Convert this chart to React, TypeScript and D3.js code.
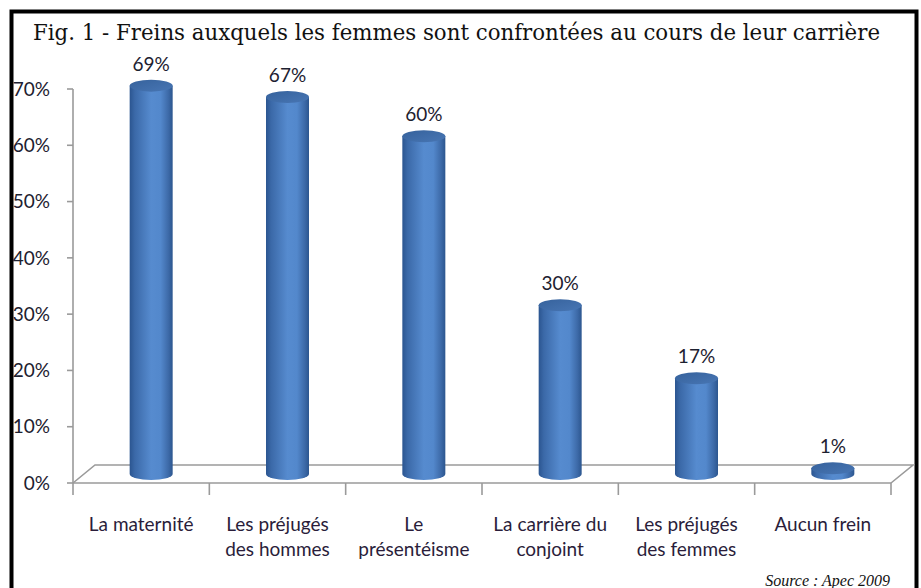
import React from "react";
import * as d3 from "d3";

const categories: string[][] = [
  ["La maternité"],
  ["Les préjugés", "des hommes"],
  ["Le", "présentéisme"],
  ["La carrière du", "conjoint"],
  ["Les préjugés", "des femmes"],
  ["Aucun frein"],
];
const values: number[] = [69, 67, 60, 30, 17, 1];
const yTicks: number[] = [0, 10, 20, 30, 40, 50, 60, 70];
const title = "Fig. 1 - Freins auxquels les femmes sont confrontées au cours de leur carrière";
const source = "Source : Apec 2009";

const W = 921;
const H = 588;

export default function App() {
  const y = d3.scaleLinear().domain([0, 70]).range([483, 89]);
  const x = d3
    .scaleBand<number>()
    .domain(values.map((_, i) => i))
    .range([73, 891])
    .padding(0);
  const depthX = 22;
  const depthY = 18;
  const rx = 21.5;
  const ry = 6;
  const bw = x.bandwidth();
  const floorFront = y(0);
  const gridColor = "#9a9a9a";
  const labelFont = "Lato, 'Open Sans', sans-serif";

  return (
    <svg
      width={W}
      height={H}
      style={{ position: "absolute", left: 0, top: 0, background: "#fff" }}
    >
      <defs>
        <linearGradient id="cylBody" x1="0" x2="1" y1="0" y2="0">
          <stop offset="0%" stopColor="#2b5590" />
          <stop offset="12%" stopColor="#3b69a8" />
          <stop offset="50%" stopColor="#568bcf" />
          <stop offset="72%" stopColor="#5388cc" />
          <stop offset="90%" stopColor="#3d6aa8" />
          <stop offset="100%" stopColor="#2c568f" />
        </linearGradient>
        <linearGradient id="cylTop" x1="0" x2="1" y1="0" y2="1">
          <stop offset="0%" stopColor="#36629c" />
          <stop offset="100%" stopColor="#4876b4" />
        </linearGradient>
      </defs>
      <rect x={0} y={0} width={W} height={H} fill="#fff" />
      <rect x={11.5} y={11.5} width={905} height={620} fill="none" stroke="#000" strokeWidth={4} />

      <text
        x={33}
        y={40}
        fontFamily="'DejaVu Serif', serif"
        fontSize={21.5}
        fill="#111"
        textLength={847}
        lengthAdjust="spacingAndGlyphs"
      >
        {title}
      </text>

      {/* floor */}
      <g stroke={gridColor} strokeWidth={1.6} fill="none">
        <path
          d={`M${x.range()[0]},${floorFront} L${x.range()[0] + depthX},${floorFront - depthY} L${x.range()[1] + depthX},${floorFront - depthY} L${x.range()[1]},${floorFront}`}
        />
        <line x1={x.range()[0]} x2={x.range()[1]} y1={floorFront} y2={floorFront} />
      </g>

      {/* y axis */}
      <g stroke={gridColor} strokeWidth={1.6}>
        <line x1={73} x2={73} y1={y(70)} y2={floorFront + 12} />
        {yTicks.map((t) => (
          <line key={t} x1={67} x2={73} y1={y(t)} y2={y(t)} />
        ))}
        {values.map((_, i) => (
          <line key={i} x1={x(i)! + bw} x2={x(i)! + bw} y1={floorFront} y2={floorFront + 12} />
        ))}
      </g>
      <g fontFamily={labelFont} fontSize={19} fill="#1d2130" textAnchor="end">
        {yTicks.map((t) => (
          <text key={t} x={50} y={y(t)} dy="0.35em">
            {`${t}%`}
          </text>
        ))}
      </g>

      {/* bars */}
      {values.map((v, i) => {
        const cx = x(i)! + bw / 2 + depthX / 2 - 1;
        const base = floorFront - depthY / 2;
        const top = y(v) - depthY / 2 - (floorFront - y(0));
        const d = `M${cx - rx},${top} L${cx - rx},${base} A${rx},${ry} 0 0 0 ${cx + rx},${base} L${cx + rx},${top} Z`;
        return (
          <g key={i}>
            <path d={d} fill="url(#cylBody)" />
            <ellipse cx={cx} cy={top} rx={rx} ry={ry} fill="url(#cylTop)" />
            <text
              x={cx}
              y={top - 15}
              textAnchor="middle"
              fontFamily={labelFont}
              fontSize={19}
              fill="#1d2130"
            >
              {`${v}%`}
            </text>
          </g>
        );
      })}

      {/* category labels */}
      <g fontFamily={labelFont} fontSize={19} fill="#2a1d3a" textAnchor="middle">
        {categories.map((lines, i) => (
          <text key={i} x={x(i)! + bw / 2} y={531}>
            {lines.map((ln, j) => (
              <tspan key={j} x={x(i)! + bw / 2} dy={j === 0 ? 0 : 25}>
                {ln}
              </tspan>
            ))}
          </text>
        ))}
      </g>

      <text
        x={890}
        y={586}
        textAnchor="end"
        fontFamily="'Liberation Serif', serif"
        fontStyle="italic"
        fontSize={16}
        fill="#111"
      >
        {source}
      </text>
    </svg>
  );
}
